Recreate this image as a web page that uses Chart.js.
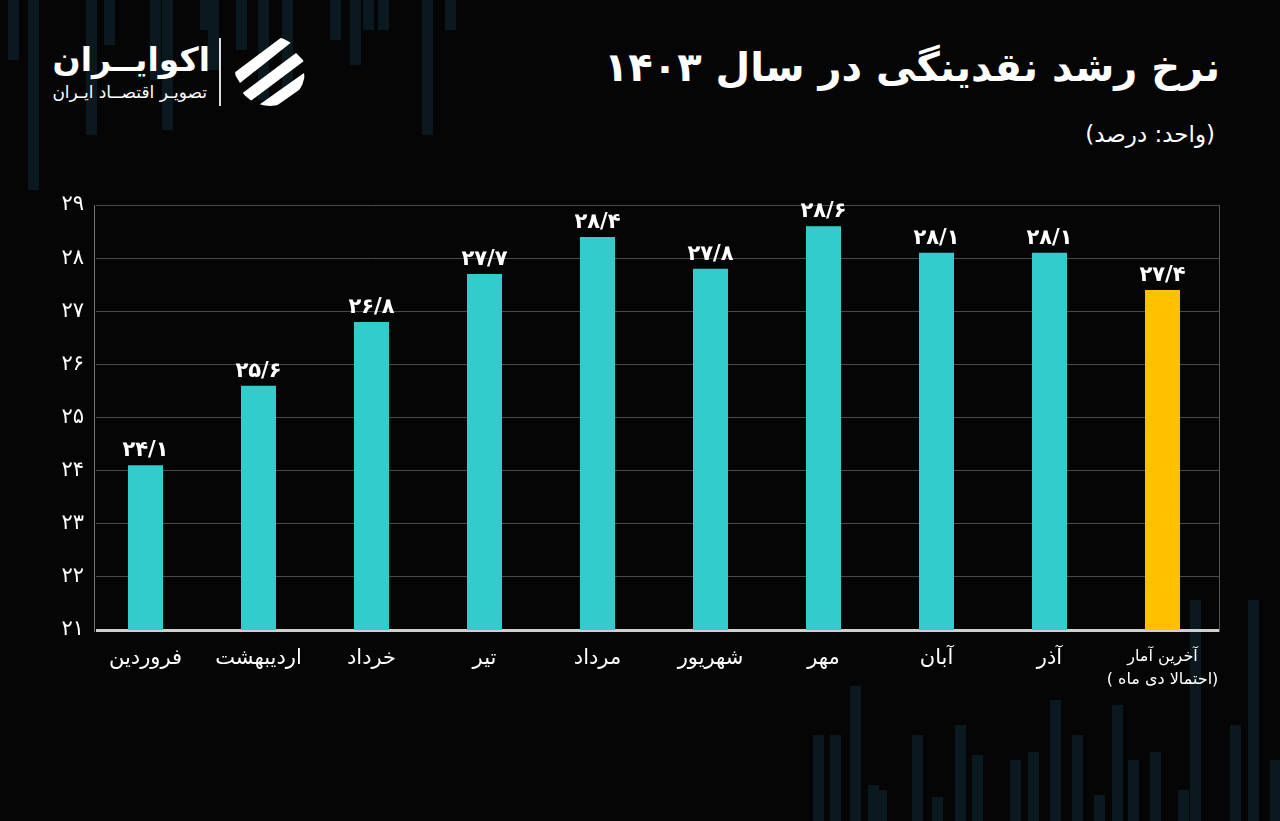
<!DOCTYPE html>
<html lang="fa">
<head>
<meta charset="utf-8">
<script src="https://cdn.jsdelivr.net/npm/chart.js@4.4.1/dist/chart.umd.min.js"></script>
<style>
  html, body { margin: 0; padding: 0; background: #050505; }
  body { width: 1280px; height: 821px; position: relative; overflow: hidden; font-family: 'DejaVu Sans', sans-serif; color: #fff; }
  .deco { position: absolute; width: 11px; background: #0a191f; }
  #title { position: absolute; right: 60px; top: 44px; font-size: 40px; font-weight: bold; direction: rtl; white-space: nowrap; }
  #unit { position: absolute; right: 65px; top: 121px; font-size: 23px; direction: rtl; white-space: nowrap; }
  #brand { position: absolute; right: 1070px; top: 40px; font-size: 33px; font-weight: bold; direction: rtl; white-space: nowrap; }
  #tagline { position: absolute; right: 1073px; top: 82px; font-size: 17px; direction: rtl; white-space: nowrap; }
  #sep { position: absolute; left: 219px; top: 38px; width: 2px; height: 68px; background: #ddd; }
  #icon { position: absolute; left: 232px; top: 33px; }
  #wrap { position: absolute; left: 0; top: 180px; width: 1280px; height: 641px; }
</style>
</head>
<body>
<div id="decoLayer"></div>
<div id="brand">اکوایــران</div>
<div id="tagline">تصویـر اقتصــاد ایـران</div>
<div id="sep"></div>
<svg id="icon" width="76" height="76" viewBox="0 0 76 76">
  <defs><clipPath id="cc"><circle cx="38" cy="38" r="35"/></clipPath></defs>
  <g clip-path="url(#cc)" fill="#fff">
    <polygon points="2,40 50,4 66,4 8,50"/>
    <polygon points="8,62 64,20 72,28 16,70"/>
    <polygon points="24,74 72,40 74,52 40,76"/>
  </g>
</svg>
<div id="title">نرخ رشد نقدینگی در سال ۱۴۰۳</div>
<div id="unit">(واحد: درصد)</div>
<div id="wrap"><canvas id="c" dir="rtl"></canvas></div>
<script>
// months of 1403 + last estimate
const months = ['فروردین', 'اردیبهشت', 'خرداد', 'تیر', 'مرداد', 'شهریور', 'مهر', 'آبان', 'آذر', ['آخرین آمار', '(احتمالا دی ماه )']];
const growth = [24.1, 25.6, 26.8, 27.7, 28.4, 27.8, 28.6, 28.1, 28.1, 27.4];
const barColors = ['#33cccc', '#33cccc', '#33cccc', '#33cccc', '#33cccc', '#33cccc', '#33cccc', '#33cccc', '#33cccc', '#ffc000'];
const yTicks = [21, 22, 23, 24, 25, 26, 27, 28, 29];

// faint background bars (decoration only): [left, top, height]
const decoTop = [[8,0,60],[28,0,190],[86,0,135],[104,0,45],[150,0,80],[162,0,130],[200,0,30],[208,0,70],[236,0,50],[258,0,100],[282,0,95],[330,0,40],[350,0,65],[363,0,30],[378,0,30],[422,0,135],[445,0,30]];
const decoBottom = [[813,735],[830,735],[850,686],[868,785],[876,790],[912,735],[932,797],[955,725],[972,755],[1010,760],[1028,752],[1050,700],[1072,735],[1094,795],[1112,705],[1128,760],[1150,752],[1178,790],[1190,600],[1230,725],[1248,600],[1270,760]];
const layer = document.getElementById('decoLayer');
decoTop.forEach(([x, t, h]) => {
  const d = document.createElement('div');
  d.className = 'deco'; d.style.left = x + 'px'; d.style.top = t + 'px'; d.style.height = h + 'px';
  layer.appendChild(d);
});
decoBottom.forEach(([x, t]) => {
  const d = document.createElement('div');
  d.className = 'deco'; d.style.left = x + 'px'; d.style.top = t + 'px'; d.style.height = (821 - t) + 'px';
  layer.appendChild(d);
});

const faDigits = '۰۱۲۳۴۵۶۷۸۹';
const toFa = n => String(n).replace('.', '/').replace(/[0-9]/g, d => faDigits[d]);

const FONT = "'DejaVu Sans', sans-serif";
const AXIS_X = 94; // where the value axis line sits

const valueLabels = {
  id: 'valueLabels',
  afterDatasetsDraw(chart) {
    const ctx = chart.ctx;
    const meta = chart.getDatasetMeta(0);
    ctx.save();
    ctx.fillStyle = '#fff';
    ctx.font = 'bold 21px ' + FONT;
    ctx.textAlign = 'center';
    ctx.textBaseline = 'bottom';
    meta.data.forEach((bar, i) => {
      ctx.fillText(toFa(growth[i]), bar.x, bar.y - 4);
    });
    ctx.restore();
  }
};

// frame: hide the small strip left of the axis line, then draw left / right borders
const frame = {
  id: 'frame',
  beforeDatasetsDraw(chart) {
    const { ctx, chartArea } = chart;
    ctx.save();
    ctx.fillStyle = '#050505';
    ctx.fillRect(chartArea.left - 1, chartArea.top - 2, AXIS_X - chartArea.left + 3, chartArea.bottom - chartArea.top + 5);
    ctx.strokeStyle = '#777';
    ctx.lineWidth = 1;
    ctx.beginPath();
    ctx.moveTo(AXIS_X + 0.5, chartArea.top);
    ctx.lineTo(AXIS_X + 0.5, chartArea.bottom + 2);
    ctx.stroke();
    ctx.strokeStyle = '#555';
    ctx.beginPath();
    ctx.moveTo(chartArea.right + 0.5, chartArea.top);
    ctx.lineTo(chartArea.right + 0.5, chartArea.bottom + 2);
    ctx.stroke();
    ctx.restore();
  }
};

new Chart(document.getElementById('c'), {
  type: 'bar',
  data: {
    labels: months,
    datasets: [{
      data: growth,
      backgroundColor: barColors,
      borderWidth: 0,
      barPercentage: 0.31,
      categoryPercentage: 1
    }]
  },
  options: {
    responsive: true,
    maintainAspectRatio: false,
    animation: false,
    layout: { padding: { top: 25, right: 61, left: 0, bottom: 0 } },
    plugins: { legend: { display: false }, tooltip: { enabled: false } },
    scales: {
      y: {
        min: 21, max: 29,
        afterFit: s => { s.width = 89; },
        afterBuildTicks: s => { s.ticks = yTicks.map(v => ({ value: v })); },
        grid: { color: '#4a4a4a', lineWidth: 1, drawTicks: false },
        border: { display: false },
        ticks: {
          padding: 5,
          color: '#fff',
          font: { family: FONT, size: 21 },
          callback: v => toFa(v)
        }
      },
      x: {
        afterFit: s => { s.height = 191; },
        grid: { display: false, drawTicks: false },
        border: { color: '#d0d0d0', width: 3 },
        ticks: {
          padding: 16,
          color: '#fff',
          maxRotation: 0,
          autoSkip: false,
          font: ctx => ctx.index === 9 ? { family: FONT, size: 16, lineHeight: 1.4 } : { family: FONT, size: 21 }
        }
      }
    }
  },
  plugins: [valueLabels, frame]
});
</script>
</body>
</html>
